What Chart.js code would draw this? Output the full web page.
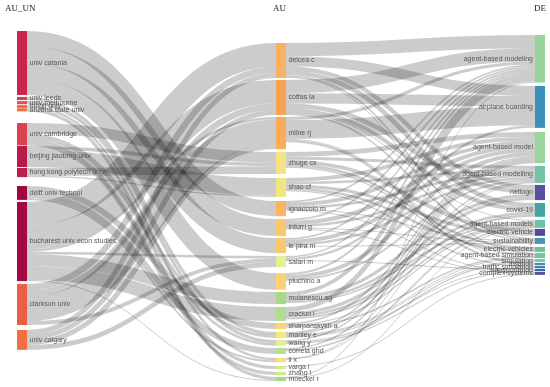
<!DOCTYPE html>
<html>
<head>
<meta charset="utf-8">
<script src="https://cdn.jsdelivr.net/npm/chart.js@4.4.1/dist/chart.umd.min.js"></script>
<style>
  html, body { margin: 0; padding: 0; background: #fff; }
  #wrap { width: 550px; height: 387px; }
</style>
</head>
<body>
<div id="wrap"><canvas id="threefield"></canvas></div>
<script>
// three-field plot: affiliations -> authors -> keywords
const columnTitles = ['AU_UN', 'AU', 'DE'];

const affiliations = ['univ catania', 'univ leeds', 'univ melbourne', 'tongji univ', 'arizona state univ',
  'univ cambridge', 'beijing jiaotong univ', 'hong kong polytech univ', 'delft univ technol',
  'bucharest univ econ studies', 'clarkson univ', 'univ calgary'];

const authors = ['delcea c', 'cotfas la', 'milne rj', 'zhuge cx', 'shao cf', 'ignaccolo m', 'inturri g',
  'le pira m', 'salari m', 'pluchino a', 'molanescu ag', 'craciun l', 'sharpanskykh a', 'manley e',
  'wang y', 'correia ghd', 'li x', 'varga l', 'zhang l', 'moeckel r'];

const keywords = ['agent-based modeling', 'airplane boarding', 'agent-based model', 'agent-based modelling',
  'netlogo', 'covid-19', 'agent-based models', 'electric vehicle', 'sustainability', 'electric vehicles',
  'agent-based simulation', 'simulation', 'aviation', 'traffic simulation', 'transportation', 'complex systems'];

const affAuthorLinks = [
  ['univ catania', 'ignaccolo m', 4.8],
  ['univ catania', 'inturri g', 5.4],
  ['univ catania', 'le pira m', 4.8],
  ['univ catania', 'pluchino a', 5.3],
  ['univ leeds', 'manley e', 1],
  ['univ melbourne', 'wang y', 1],
  ['tongji univ', 'li x', 0.8],
  ['arizona state univ', 'moeckel r', 1],
  ['univ cambridge', 'zhuge cx', 3.4],
  ['univ cambridge', 'manley e', 0.9],
  ['univ cambridge', 'varga l', 1],
  ['univ cambridge', 'zhang l', 1],
  ['univ cambridge', 'wang y', 0.8],
  ['beijing jiaotong univ', 'shao cf', 5.6],
  ['beijing jiaotong univ', 'zhuge cx', 1.1],
  ['hong kong polytech univ', 'zhuge cx', 2.5],
  ['hong kong polytech univ', 'shao cf', 0.4],
  ['delft univ technol', 'sharpanskykh a', 1.9],
  ['delft univ technol', 'correia ghd', 1.9],
  ['delft univ technol', 'li x', 0.6],
  ['bucharest univ econ studies', 'delcea c', 7.5],
  ['bucharest univ econ studies', 'cotfas la', 7.5],
  ['bucharest univ econ studies', 'molanescu ag', 3.8],
  ['bucharest univ econ studies', 'craciun l', 4.4],
  ['bucharest univ econ studies', 'salari m', 0.8],
  ['bucharest univ econ studies', 'moeckel r', 0.3],
  ['bucharest univ econ studies', 'milne rj', 0.8],
  ['clarkson univ', 'milne rj', 7.8],
  ['clarkson univ', 'delcea c', 2],
  ['clarkson univ', 'cotfas la', 2],
  ['clarkson univ', 'salari m', 1.2],
  ['univ calgary', 'milne rj', 1.6],
  ['univ calgary', 'delcea c', 1.6],
  ['univ calgary', 'cotfas la', 1.6],
  ['univ calgary', 'salari m', 1.5],
];

const authorKeywordLinks = [
  ['delcea c', 'agent-based modeling', 4.2],
  ['delcea c', 'airplane boarding', 3.2],
  ['delcea c', 'netlogo', 1.3],
  ['delcea c', 'covid-19', 1.5],
  ['delcea c', 'sustainability', 0.5],
  ['delcea c', 'agent-based simulation', 0.3],
  ['cotfas la', 'agent-based modeling', 4.2],
  ['cotfas la', 'airplane boarding', 3.3],
  ['cotfas la', 'netlogo', 1.5],
  ['cotfas la', 'covid-19', 1.3],
  ['cotfas la', 'sustainability', 0.5],
  ['cotfas la', 'agent-based models', 0.3],
  ['milne rj', 'airplane boarding', 6],
  ['milne rj', 'agent-based modeling', 1],
  ['milne rj', 'aviation', 0.7],
  ['milne rj', 'simulation', 0.3],
  ['zhuge cx', 'agent-based model', 1.5],
  ['zhuge cx', 'electric vehicle', 1.2],
  ['zhuge cx', 'electric vehicles', 0.8],
  ['zhuge cx', 'agent-based modelling', 1],
  ['zhuge cx', 'agent-based simulation', 0.5],
  ['shao cf', 'agent-based model', 1.2],
  ['shao cf', 'electric vehicle', 1],
  ['shao cf', 'electric vehicles', 0.8],
  ['shao cf', 'agent-based modelling', 0.8],
  ['shao cf', 'traffic simulation', 0.4],
  ['ignaccolo m', 'agent-based model', 1.2],
  ['ignaccolo m', 'agent-based modelling', 0.8],
  ['ignaccolo m', 'agent-based modeling', 0.5],
  ['ignaccolo m', 'sustainability', 0.3],
  ['ignaccolo m', 'complex systems', 0.3],
  ['inturri g', 'agent-based model', 1.3],
  ['inturri g', 'agent-based modelling', 0.8],
  ['inturri g', 'agent-based modeling', 0.6],
  ['inturri g', 'sustainability', 0.3],
  ['inturri g', 'complex systems', 0.3],
  ['le pira m', 'agent-based model', 1.2],
  ['le pira m', 'agent-based modelling', 0.8],
  ['le pira m', 'agent-based modeling', 0.5],
  ['le pira m', 'sustainability', 0.3],
  ['salari m', 'airplane boarding', 0.8],
  ['salari m', 'agent-based modeling', 0.5],
  ['salari m', 'transportation', 0.3],
  ['pluchino a', 'agent-based model', 1.2],
  ['pluchino a', 'agent-based modelling', 0.6],
  ['pluchino a', 'agent-based modeling', 0.6],
  ['molanescu ag', 'agent-based modeling', 1.2],
  ['molanescu ag', 'netlogo', 1],
  ['molanescu ag', 'covid-19', 0.8],
  ['molanescu ag', 'agent-based models', 0.5],
  ['craciun l', 'agent-based modeling', 1.5],
  ['craciun l', 'netlogo', 1],
  ['craciun l', 'covid-19', 0.8],
  ['craciun l', 'agent-based models', 0.6],
  ['sharpanskykh a', 'agent-based simulation', 0.5],
  ['sharpanskykh a', 'agent-based model', 0.5],
  ['sharpanskykh a', 'agent-based models', 0.4],
  ['manley e', 'agent-based simulation', 0.3],
  ['manley e', 'agent-based model', 0.5],
  ['manley e', 'agent-based modelling', 0.4],
  ['manley e', 'traffic simulation', 0.3],
  ['manley e', 'simulation', 0.3],
  ['wang y', 'agent-based model', 0.5],
  ['wang y', 'simulation', 0.4],
  ['wang y', 'transportation', 0.4],
  ['correia ghd', 'agent-based models', 0.5],
  ['correia ghd', 'agent-based model', 0.5],
  ['li x', 'agent-based model', 0.3],
  ['li x', 'agent-based modelling', 0.2],
  ['varga l', 'complex systems', 0.3],
  ['moeckel r', 'agent-based modeling', 0.3],
  ['moeckel r', 'agent-based models', 0.2],
];

// ---- styles / layout (px) ----
const nodeColors = [
  ['#c9254d', '#d9404a', '#e0534a', '#e65a47', '#f07040', '#d9434f', '#b81a4a', '#c01c4c', '#a3063f', '#a30a44', '#ea5e44', '#f3703f'],
  ['#fbb162', '#f9a352', '#fbab5a', '#f4e481', '#f2e57f', '#fbb560', '#fcc66a', '#fcc86b', '#e3f195', '#fdd372',
   '#a8d98a', '#b0dd8e', '#fdd56f', '#f3e97f', '#dfef92', '#b5df8e', '#f6e07a', '#d4ec8f', '#cce98c', '#a7d98d'],
  ['#97d49c', '#3a8fbb', '#9ad59b', '#72c5a3', '#5a4ea0', '#43a4a6', '#6cc2a5', '#5048a0', '#4696b8', '#6cc2a5',
   '#73c7a0', '#7ccba5', '#3c8dbb', '#3d7fb5', '#4160a8', '#4d55a0'],
];
const gapsBefore = [
  [31, 2, 1, 1, 0.5, 11.6, 0.6, 0.9, 8.9, 2.1, 3, 5],
  [43, 2, 2, 2.9, 4, 4.1, 2.9, 2, 2.9, 6, 2.3, 3, 2.1, 3, 2, 2.3, 4, 3.6, 2.85, 1.85],
  [35, 3.4, 4.1, 2.8, 2, 2.9, 3.1, 1.1, 2.1, 3, 1, 1, 0.85, 0.8, 0.8, 0.8],
];
const titleX = [5, 273, 534];
const nodeWidth = 10;
const pxPerUnit = 3.15;

const threeFieldPlugin = {
  id: 'threeField',
  beforeDatasetsDraw(chart) {
    const { ctx, scales: { x, y } } = chart;
    const unit = y.getPixelForValue(1) - y.getPixelForValue(0);
    const cols = [affiliations, authors, keywords].map((names, c) =>
      names.map((name, i) => ({ name, col: c, idx: i, inV: 0, outV: 0, out: [], inc: [] })));
    const find = (c, n) => cols[c].find(d => d.name === n);

    const links = [];
    affAuthorLinks.forEach(([s, t, v]) => links.push({ s: find(0, s), t: find(1, t), v }));
    authorKeywordLinks.forEach(([s, t, v]) => links.push({ s: find(1, s), t: find(2, t), v }));
    links.forEach(l => { l.s.out.push(l); l.s.outV += l.v; l.t.inc.push(l); l.t.inV += l.v; });

    // stack nodes down each column
    cols.forEach((col, c) => {
      let v = 0;
      col.forEach((n, i) => {
        v += gapsBefore[c][i] / unit;
        n.value = Math.max(n.inV, n.outV);
        n.v0 = v;
        v += n.value;
      });
    });

    // link offsets inside nodes, sorted by the other end
    cols.flat().forEach(n => {
      let o = n.v0;
      n.out.sort((a, b) => a.t.v0 - b.t.v0).forEach(l => { l.sv = o + l.v / 2; o += l.v; });
      o = n.v0;
      n.inc.sort((a, b) => a.s.v0 - b.s.v0).forEach(l => { l.tv = o + l.v / 2; o += l.v; });
    });

    ctx.save();
    ctx.strokeStyle = 'rgba(0,0,0,0.2)';
    links.forEach(l => {
      const x0 = x.getPixelForValue(l.s.col) + nodeWidth;
      const x1 = x.getPixelForValue(l.t.col);
      const xm = (x0 + x1) / 2;
      const y0 = y.getPixelForValue(l.sv);
      const y1 = y.getPixelForValue(l.tv);
      ctx.lineWidth = Math.max(l.v * unit, 1);
      ctx.beginPath();
      ctx.moveTo(x0, y0);
      ctx.bezierCurveTo(xm, y0, xm, y1, x1, y1);
      ctx.stroke();
    });

    cols.forEach((col, c) => {
      const px = x.getPixelForValue(c);
      col.forEach((n, i) => {
        const top = y.getPixelForValue(n.v0);
        const h = n.value * unit;
        ctx.fillStyle = nodeColors[c][i];
        ctx.fillRect(px, top, nodeWidth, h);
      });
    });

    ctx.font = '7px "Liberation Sans", Arial, sans-serif';
    ctx.fillStyle = '#555';
    ctx.textBaseline = 'middle';
    cols.forEach((col, c) => {
      const px = x.getPixelForValue(c);
      col.forEach(n => {
        const mid = y.getPixelForValue(n.v0 + n.value / 2);
        if (c < 2) { ctx.textAlign = 'left'; ctx.fillText(n.name, px + nodeWidth + 2.5, mid); }
        else { ctx.textAlign = 'right'; ctx.fillText(n.name, px - 2, mid); }
      });
    });

    ctx.font = '9px "Liberation Serif", "DejaVu Serif", serif';
    ctx.fillStyle = '#222';
    ctx.textAlign = 'left';
    ctx.textBaseline = 'alphabetic';
    columnTitles.forEach((t, c) => ctx.fillText(t, titleX[c], 11));
    ctx.restore();
  }
};

new Chart(document.getElementById('threefield'), {
  type: 'scatter',
  data: { datasets: [] },
  options: {
    responsive: true,
    maintainAspectRatio: false,
    animation: false,
    layout: { padding: { left: 17, right: 15, top: 0, bottom: 0 } },
    plugins: { legend: { display: false }, tooltip: { enabled: false } },
    scales: {
      x: { type: 'linear', min: 0, max: 2, display: false },
      y: { type: 'linear', min: 0, max: 387 / pxPerUnit, reverse: true, display: false },
    },
  },
  plugins: [threeFieldPlugin],
});
</script>
</body>
</html>
